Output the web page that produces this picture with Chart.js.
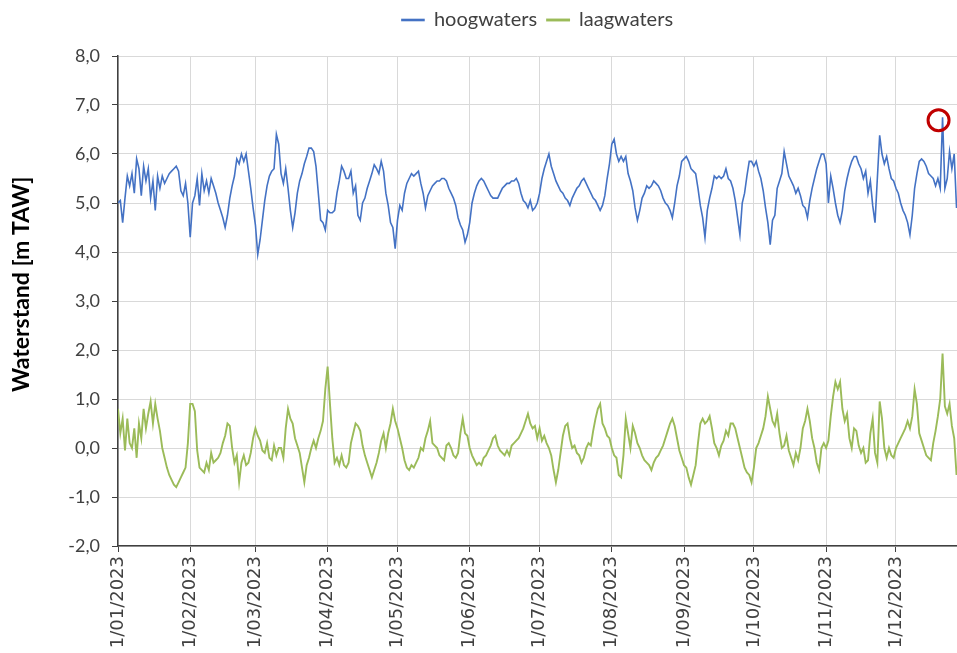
<!DOCTYPE html>
<html>
<head>
<meta charset="utf-8">
<script src="https://cdn.jsdelivr.net/npm/chart.js@4.4.1/dist/chart.umd.min.js"></script>
<style>
  html, body { margin: 0; padding: 0; background: #ffffff; overflow: hidden; }
  #wrap { width: 957px; height: 653px; position: relative; }
</style>
</head>
<body>
<div id="wrap"><canvas id="c" width="957" height="653"></canvas></div>
<script>
// ---- data (one value per day, day 0 = 1/01/2023) ----
const seriesNames = ["hoogwaters", "laagwaters"];

const hoogwaters = [
  5.0, 5.05, 4.6, 5.1, 5.55, 5.35, 5.6, 5.2, 5.9, 5.7,
  5.15, 5.75, 5.45, 5.7, 5.1, 5.45, 4.85, 5.55, 5.3, 5.55,
  5.4, 5.5, 5.6, 5.65, 5.7, 5.75, 5.65, 5.25, 5.15, 5.4,
  5.0, 4.3, 5.0, 5.15, 5.5, 4.95, 5.6, 5.25, 5.45, 5.2,
  5.5, 5.35, 5.2, 5.0, 4.85, 4.7, 4.5, 4.75, 5.1, 5.35,
  5.55, 5.9, 5.8, 6.0, 5.85, 6.0, 5.65, 5.3, 4.9, 4.55,
  3.95, 4.25, 4.65, 5.05, 5.35, 5.55, 5.65, 5.7, 6.4, 6.2,
  5.6, 5.4, 5.7, 5.3, 4.85, 4.5, 4.8, 5.2, 5.45, 5.6,
  5.8, 5.95, 6.12, 6.12, 6.05, 5.75, 5.2, 4.65, 4.6, 4.45,
  4.85, 4.8, 4.8, 4.85, 5.2, 5.45, 5.75, 5.65, 5.5, 5.5,
  5.65, 5.2, 5.35, 4.75, 4.65, 5.0, 5.1, 5.3, 5.45, 5.6,
  5.78, 5.7, 5.6, 5.85, 5.65, 5.2, 4.95, 4.6, 4.5, 4.07,
  4.65, 4.95, 4.85, 5.2, 5.4, 5.5, 5.6, 5.55, 5.6, 5.65,
  5.4, 5.2, 4.9, 5.15, 5.25, 5.35, 5.4, 5.45, 5.45, 5.5,
  5.5, 5.45, 5.3, 5.2, 5.1, 4.95, 4.7, 4.55, 4.45, 4.2,
  4.35, 4.6, 5.0, 5.2, 5.35, 5.45, 5.5, 5.45, 5.35, 5.25,
  5.15, 5.1, 5.1, 5.1, 5.2, 5.3, 5.35, 5.4, 5.4, 5.45,
  5.45, 5.5, 5.4, 5.2, 5.05, 5.0, 4.9, 5.05, 4.85, 4.9,
  5.0, 5.2, 5.5, 5.7, 5.85, 6.0, 5.75, 5.6, 5.45, 5.35,
  5.25, 5.2, 5.1, 5.05, 4.95, 5.1, 5.2, 5.3, 5.35, 5.45,
  5.5, 5.4, 5.3, 5.2, 5.1, 5.05, 4.95, 4.85, 4.95, 5.15,
  5.5, 5.8, 6.2, 6.3, 6.0, 5.85, 5.95, 5.85, 5.95, 5.6,
  5.45, 5.25, 4.9, 4.65, 4.85, 5.1, 5.2, 5.35, 5.3, 5.35,
  5.45, 5.4, 5.35, 5.25, 5.1, 5.0, 4.95, 4.85, 4.7, 5.0,
  5.35, 5.55, 5.85, 5.9, 5.95, 5.85, 5.7, 5.65, 5.6, 5.3,
  4.95, 4.7, 4.3, 4.85, 5.1, 5.3, 5.55, 5.5, 5.55, 5.5,
  5.55, 5.7, 5.5, 5.45, 5.3, 5.05, 4.7, 4.35, 5.0, 5.2,
  5.55, 5.85, 5.85, 5.75, 5.85, 5.65, 5.5, 5.25, 4.9, 4.6,
  4.15, 4.65, 4.75, 5.3, 5.45, 5.6, 6.05, 5.8, 5.55, 5.45,
  5.35, 5.2, 5.3, 5.15, 4.95, 4.9, 4.7, 5.05, 5.3, 5.5,
  5.7, 5.85, 6.0, 6.0, 5.8, 5.0, 5.55, 5.3, 5.0, 4.75,
  4.6, 4.85, 5.25, 5.5, 5.7, 5.85, 5.95, 5.95, 5.8, 5.7,
  5.5, 5.65, 5.2, 5.45, 4.95, 4.6, 5.5, 6.38, 6.0, 5.8,
  5.95, 5.7, 5.5, 5.45, 5.3, 5.2, 5.0, 4.85, 4.75, 4.6,
  4.35, 4.75, 5.3, 5.6, 5.85, 5.9, 5.85, 5.75, 5.6, 5.55,
  5.5, 5.35, 5.5, 5.3, 6.75, 5.3, 5.5, 6.05, 5.7, 6.0, 4.9
];

const laagwaters = [
  0.8, 0.3, 0.6, -0.05, 0.6, 0.1, 0.0, 0.4, -0.2, 0.5,
  0.2, 0.8, 0.4, 0.7, 0.95, 0.5, 0.9, 0.6, 0.35, 0.0,
  -0.2, -0.4, -0.55, -0.65, -0.75, -0.8, -0.7, -0.6, -0.5, -0.4,
  0.1, 0.9, 0.9, 0.75, -0.05, -0.4, -0.45, -0.5, -0.3, -0.45,
  -0.1, -0.3, -0.25, -0.2, -0.1, 0.1, 0.25, 0.5, 0.45, 0.0,
  -0.3, -0.15, -0.7, -0.3, -0.15, -0.35, -0.3, -0.1, 0.2, 0.4,
  0.25, 0.15, -0.05, -0.1, 0.1, -0.2, -0.25, 0.05, -0.15, 0.0,
  0.0, -0.2, 0.4, 0.8, 0.6, 0.5, 0.2, 0.05, -0.1, -0.4,
  -0.7, -0.35, -0.2, 0.0, 0.15, 0.0, 0.2, 0.35, 0.55, 1.2,
  1.66, 0.9, 0.2, -0.3, -0.2, -0.35, -0.15, -0.35, -0.4, -0.3,
  0.1, 0.3, 0.5, 0.45, 0.35, 0.05, -0.15, -0.3, -0.45, -0.6,
  -0.45, -0.3, -0.1, 0.15, 0.3, 0.0, 0.3, 0.5, 0.8, 0.55,
  0.4, 0.2, 0.0, -0.25, -0.4, -0.45, -0.35, -0.4, -0.3, -0.2,
  0.0, -0.05, 0.2, 0.35, 0.55, 0.1, 0.05, 0.0, -0.15, -0.2,
  -0.25, 0.05, 0.1, 0.0, -0.15, -0.2, -0.1, 0.3, 0.6, 0.3,
  0.25, 0.0, -0.15, -0.25, -0.35, -0.3, -0.35, -0.2, -0.15, -0.05,
  0.05, 0.2, 0.25, 0.05, -0.05, -0.1, -0.15, -0.05, -0.15, 0.05,
  0.1, 0.15, 0.2, 0.3, 0.4, 0.55, 0.7, 0.5, 0.4, 0.45,
  0.2, 0.4, 0.15, 0.25, 0.1, 0.0, -0.15, -0.45, -0.7, -0.45,
  -0.1, 0.25, 0.45, 0.5, 0.2, 0.0, 0.05, -0.1, -0.15, -0.3,
  -0.2, 0.0, 0.1, 0.05, 0.35, 0.6, 0.8, 0.9, 0.5, 0.4,
  0.25, 0.2, 0.0, -0.15, -0.2, -0.55, -0.6, -0.15, 0.6, 0.3,
  0.0, 0.45, 0.3, 0.1, 0.0, -0.15, -0.25, -0.3, -0.35, -0.45,
  -0.3, -0.2, -0.15, -0.05, 0.05, 0.2, 0.35, 0.5, 0.6, 0.45,
  0.2, -0.05, -0.2, -0.35, -0.4, -0.6, -0.75, -0.55, -0.35, 0.1,
  0.5, 0.6, 0.5, 0.55, 0.65, 0.4, 0.1, 0.0, -0.15, 0.05,
  0.15, 0.35, 0.25, 0.5, 0.5, 0.4, 0.2, 0.0, -0.2, -0.4,
  -0.5, -0.55, -0.7, -0.4, 0.0, 0.1, 0.25, 0.4, 0.65, 1.05,
  0.8, 0.55, 0.45, 0.7, 0.3, 0.0, 0.05, 0.25, -0.05, -0.2,
  -0.35, -0.1, -0.25, 0.0, 0.4, 0.55, 0.8, 0.55, 0.2, 0.0,
  -0.3, -0.45, 0.0, 0.1, 0.0, 0.15, 0.65, 1.05, 1.35, 1.2,
  1.35, 0.8, 0.55, 0.7, 0.2, 0.0, 0.4, 0.35, 0.05, -0.1,
  0.0, -0.3, -0.25, 0.3, 0.6, -0.1, -0.3, 0.95, 0.6, 0.0,
  -0.2, 0.0, -0.15, -0.2, 0.0, 0.1, 0.2, 0.3, 0.4, 0.55,
  0.4, 0.65, 1.2, 0.9, 0.3, 0.15, 0.0, -0.15, -0.2, -0.25,
  0.1, 0.35, 0.65, 1.0, 1.93, 0.85, 0.7, 0.9, 0.45, 0.2, -0.55
];

// x-axis ticks: first day of each month (day number) and their labels
const monthStartDays = [0, 31, 59, 90, 120, 151, 181, 212, 243, 273, 304, 334];
const monthTickLabels = ["1/01/2023", "1/02/2023", "1/03/2023", "1/04/2023", "1/05/2023", "1/06/2023",
                         "1/07/2023", "1/08/2023", "1/09/2023", "1/10/2023", "1/11/2023", "1/12/2023"];
const yTickValues = [-2, -1, 0, 1, 2, 3, 4, 5, 6, 7, 8];

// ---- chart ----
const toPoints = arr => arr.map((v, i) => ({ x: i, y: v }));

const legendHeight = {
  id: 'legendHeight',
  beforeInit(chart) {
    const fit = chart.legend.fit;
    chart.legend.fit = function () { fit.bind(chart.legend)(); this.height = 56; };
  }
};

const markMax = {
  id: 'markMax',
  afterDatasetsDraw(chart) {
    const data = hoogwaters;
    let idx = 0;
    for (let i = 1; i < data.length; i++) if (data[i] > data[idx]) idx = i;
    const xs = chart.scales.x, ys = chart.scales.y;
    const px = xs.getPixelForValue(idx) - 4;
    const py = ys.getPixelForValue(data[idx]) + 3;
    const ctx = chart.ctx;
    ctx.save();
    ctx.beginPath();
    ctx.arc(px, py, 10.5, 0, Math.PI * 2);
    ctx.lineWidth = 3;
    ctx.strokeStyle = '#C00000';
    ctx.stroke();
    ctx.restore();
  }
};

new Chart(document.getElementById('c'), {
  type: 'line',
  data: {
    datasets: [
      {
        label: seriesNames[0],
        data: toPoints(hoogwaters),
        borderColor: '#4472C4',
        backgroundColor: '#4472C4',
        borderWidth: 1.6,
        pointRadius: 0,
        tension: 0
      },
      {
        label: seriesNames[1],
        data: toPoints(laagwaters),
        borderColor: '#9BBB59',
        backgroundColor: '#9BBB59',
        borderWidth: 1.9,
        pointRadius: 0,
        tension: 0
      }
    ]
  },
  options: {
    responsive: false,
    animation: false,
    layout: { padding: 0 },
    plugins: {
      tooltip: { enabled: false },
      legend: {
        position: 'top',
        fullSize: false,
        labels: {
          boxWidth: 22,
          boxHeight: 1,
          padding: 10,
          color: '#404040',
          font: { family: 'Lato', size: 20 }
        }
      }
    },
    scales: {
      x: {
        type: 'linear',
        min: 0,
        max: 360.2,
        afterBuildTicks: s => { s.ticks = monthStartDays.map(v => ({ value: v })); },
        afterFit: s => { s.height = 107; },
        grid: { color: '#D9D9D9', lineWidth: 1, tickLength: 6, tickColor: '#404040', drawTicks: true },
        border: { color: '#404040', width: 1.5 },
        ticks: {
          autoSkip: false,
          maxRotation: 90,
          minRotation: 90,
          padding: 4,
          color: '#404040',
          font: { family: 'DejaVu Sans', size: 18 },
          callback: (v, i) => monthTickLabels[i]
        }
      },
      y: {
        min: -2,
        max: 8,
        afterBuildTicks: s => { s.ticks = yTickValues.map(v => ({ value: v })); },
        afterFit: s => { s.width = 118; },
        grid: { color: '#D9D9D9', lineWidth: 1, tickLength: 6, tickColor: '#404040' },
        border: { color: '#404040', width: 1.5 },
        ticks: {
          padding: 12,
          color: '#404040',
          font: { family: 'Lato', size: 18 },
          callback: v => v.toFixed(1).replace('.', ',')
        },
        title: {
          display: true,
          text: '\u00A0\u00A0\u00A0\u00A0\u00A0\u00A0Waterstand [m TAW]',
          color: '#000000',
          font: { family: 'Lato', size: 23, weight: 'bold' },
          padding: { top: 8, bottom: 0 }
        }
      }
    }
  },
  plugins: [legendHeight, markMax]
});
</script>
</body>
</html>
